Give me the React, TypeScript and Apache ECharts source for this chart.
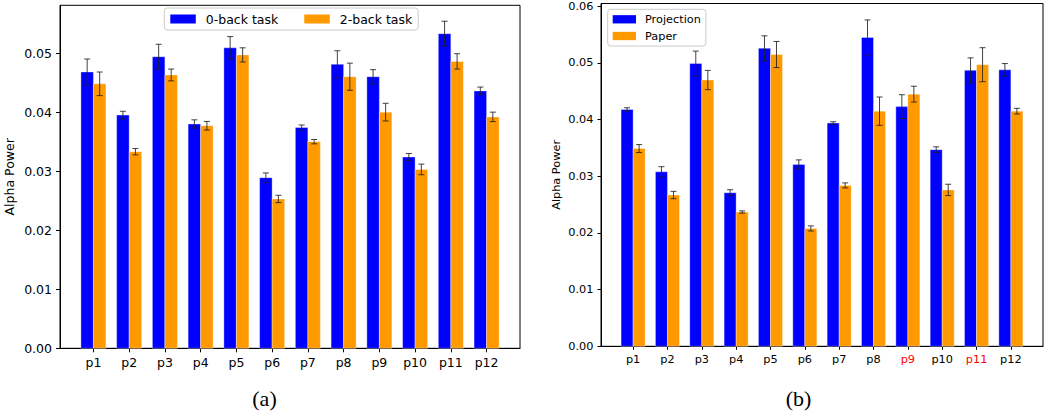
import React, { useEffect, useRef } from "react";
import * as echarts from "echarts";

const categories = ["p1", "p2", "p3", "p4", "p5", "p6", "p7", "p8", "p9", "p10", "p11", "p12"];
const redLabels = ["p9", "p11"];

// (a)
const zeroBack = [0.0468, 0.0395, 0.0494, 0.038, 0.0509, 0.0289, 0.0374, 0.0481, 0.046, 0.0324, 0.0533, 0.0436];
const zeroBackErr = [0.0022, 0.00065, 0.0021, 0.0007, 0.0019, 0.0008, 0.00042, 0.0023, 0.0012, 0.0006, 0.0021, 0.00065];
const twoBack = [0.0448, 0.0333, 0.0463, 0.0377, 0.0497, 0.0253, 0.035, 0.046, 0.04, 0.0303, 0.0486, 0.0392];
const twoBackErr = [0.002, 0.00054, 0.001, 0.00073, 0.0012, 0.00062, 0.00037, 0.0023, 0.0015, 0.0009, 0.0013, 0.0008];

// (b)
const projection = [0.0418, 0.0308, 0.0499, 0.0271, 0.0526, 0.0321, 0.0394, 0.0545, 0.0423, 0.0347, 0.0487, 0.0488];
const projectionErr = [0.0003, 0.0009, 0.0022, 0.00053, 0.0022, 0.0008, 0.00023, 0.0031, 0.0021, 0.0005, 0.0022, 0.0011];
const paper = [0.0349, 0.0267, 0.047, 0.0237, 0.0515, 0.0208, 0.0284, 0.0415, 0.0445, 0.0276, 0.0497, 0.0415];
const paperErr = [0.0007, 0.00065, 0.0017, 0.0002, 0.0023, 0.00045, 0.00044, 0.0025, 0.0014, 0.001, 0.003, 0.0005];

const yTicksA = [0, 0.01, 0.02, 0.03, 0.04, 0.05];
const yTicksB = [0, 0.01, 0.02, 0.03, 0.04, 0.05, 0.06];

const BLUE = "#0000ff";
const ORANGE = "#ff9900";
const FONT = "DejaVu Sans";
const BAR_W = 0.35;

function makeRender(offset: number, color: string) {
  return (params: any, api: any) => {
    const i = api.value(0);
    const v = api.value(1);
    const e = api.value(2);
    const tl = api.coord([i + offset, v]);
    const br = api.coord([i + offset + BAR_W, 0]);
    const cx = api.coord([i + offset + BAR_W / 2, v])[0];
    const hi = api.coord([i + offset + BAR_W / 2, v + e])[1];
    const lo = api.coord([i + offset + BAR_W / 2, v - e])[1];
    const cap = 3;
    const errStyle = { stroke: "#222", lineWidth: 1, opacity: 0.85 };
    return {
      type: "group",
      children: [
        {
          type: "rect",
          shape: { x: tl[0], y: tl[1], width: br[0] - tl[0], height: br[1] - tl[1] },
          style: { fill: color, stroke: "rgba(255,255,255,0.35)", lineWidth: 1 },
        },
        { type: "line", shape: { x1: cx, y1: hi, x2: cx, y2: lo }, style: errStyle },
        { type: "line", shape: { x1: cx - cap, y1: hi, x2: cx + cap, y2: hi }, style: errStyle },
        { type: "line", shape: { x1: cx - cap, y1: lo, x2: cx + cap, y2: lo }, style: errStyle },
      ],
    };
  };
}

function seriesFor(name: string, vals: number[], errs: number[], offset: number, color: string, idx: number) {
  return {
    type: "custom",
    name,
    xAxisIndex: idx,
    yAxisIndex: idx,
    itemStyle: { color },
    renderItem: makeRender(offset, color),
    encode: { x: 0, y: 1 },
    data: vals.map((v, i) => [i, v, errs[i]]),
  };
}

export default function App() {
  const ref = useRef<HTMLDivElement>(null);
  useEffect(() => {
    if (!ref.current) return;
    const chart = echarts.init(ref.current, undefined, { renderer: "svg" });
    const catIdx = categories.map((_, i) => i);
    const xAxisFor = (idx: number, fontSize: number, margin: number, tickLen: number) => ({
      type: "value",
      gridIndex: idx,
      min: -0.935,
      max: 11.935,
      splitLine: { show: false },
      axisLine: { show: true, onZero: false, lineStyle: { color: "#000", width: 1 } },
      axisTick: { show: true, customValues: catIdx, length: tickLen, lineStyle: { color: "#000", width: 1 } },
      axisLabel: {
        customValues: catIdx,
        margin,
        fontSize,
        fontFamily: FONT,
        color: "#000",
        formatter: (v: number) => {
          const n = categories[Math.round(v)];
          return redLabels.includes(n) && idx === 1 ? `{red|${n}}` : n;
        },
        rich: { red: { color: "#ff0000", fontSize, fontFamily: FONT } },
      },
    });
    const yAxisFor = (idx: number, max: number, ticks: number[], fontSize: number, margin: number, nameGap: number, tickLen: number) => ({
      type: "value",
      gridIndex: idx,
      min: 0,
      max,
      splitLine: { show: false },
      axisLine: { show: true, onZero: false, lineStyle: { color: "#000", width: 1 } },
      axisTick: { show: true, customValues: ticks, length: tickLen, lineStyle: { color: "#000", width: 1 } },
      axisLabel: {
        customValues: ticks,
        margin,
        fontSize,
        fontFamily: FONT,
        color: "#000",
        formatter: (v: number) => v.toFixed(2),
      },
      name: "Alpha Power",
      nameLocation: "middle",
      nameRotate: 90,
      nameGap,
      nameTextStyle: { fontSize, fontFamily: FONT, color: "#000" },
    });
    chart.setOption({
      animation: false,
      grid: [
        { left: 60, top: 5.3, width: 460, height: 343, show: true, borderColor: "#000", borderWidth: 1, backgroundColor: "transparent" },
        { left: 601, top: 3.5, width: 442, height: 342.8, show: true, borderColor: "#000", borderWidth: 1, backgroundColor: "transparent" },
      ],
      xAxis: [xAxisFor(0, 12.5, 8, 4), xAxisFor(1, 11.3, 7.5, 3.5)],
      yAxis: [
        yAxisFor(0, 0.0581, yTicksA, 12.5, 8, 44, 4),
        yAxisFor(1, 0.0605, yTicksB, 11.3, 7.5, 39, 3.5),
      ],
      legend: [
        {
          data: [
            { name: "0-back task", icon: "rect" },
            { name: "2-back task", icon: "rect" },
          ],
          left: 164.3,
          top: 8,
          orient: "horizontal",
          padding: [3.5, 6, 3.5, 6],
          itemWidth: 25.5,
          itemHeight: 9,
          itemGap: 26,
          borderColor: "#cccccc",
          borderWidth: 1,
          borderRadius: 3,
          backgroundColor: "rgba(255,255,255,0.8)",
          selectedMode: false,
          textStyle: { fontSize: 12.5, fontFamily: FONT, color: "#000", lineHeight: 15, padding: [0, 0, 0, 5] },
        },
        {
          data: [
            { name: "Projection", icon: "rect" },
            { name: "Paper", icon: "rect" },
          ],
          left: 607.7,
          top: 9.3,
          orient: "vertical",
          padding: [3.5, 5, 3.5, 5],
          itemWidth: 23.3,
          itemHeight: 8.3,
          itemGap: 3.7,
          borderColor: "#cccccc",
          borderWidth: 1,
          borderRadius: 3,
          backgroundColor: "rgba(255,255,255,0.8)",
          selectedMode: false,
          textStyle: { fontSize: 11.3, fontFamily: FONT, color: "#000", lineHeight: 13, padding: [0, 0, 0, 4] },
        },
      ],
      series: [
        seriesFor("0-back task", zeroBack, zeroBackErr, -BAR_W, BLUE, 0),
        seriesFor("2-back task", twoBack, twoBackErr, 0, ORANGE, 0),
        seriesFor("Projection", projection, projectionErr, -BAR_W, BLUE, 1),
        seriesFor("Paper", paper, paperErr, 0, ORANGE, 1),
      ],
      graphic: [
        {
          type: "text",
          x: 264.5,
          y: 398,
          style: { text: "(a)", fontFamily: "Liberation Serif", fontSize: 22, fill: "#000", align: "center", verticalAlign: "middle" },
        },
        {
          type: "text",
          x: 798.5,
          y: 398,
          style: { text: "(b)", fontFamily: "Liberation Serif", fontSize: 22, fill: "#000", align: "center", verticalAlign: "middle" },
        },
      ],
    });
    return () => chart.dispose();
  }, []);
  return (
    <div
      ref={ref}
      style={{ position: "fixed", left: 0, top: 0, width: 1047, height: 415, background: "#fff" }}
    />
  );
}
